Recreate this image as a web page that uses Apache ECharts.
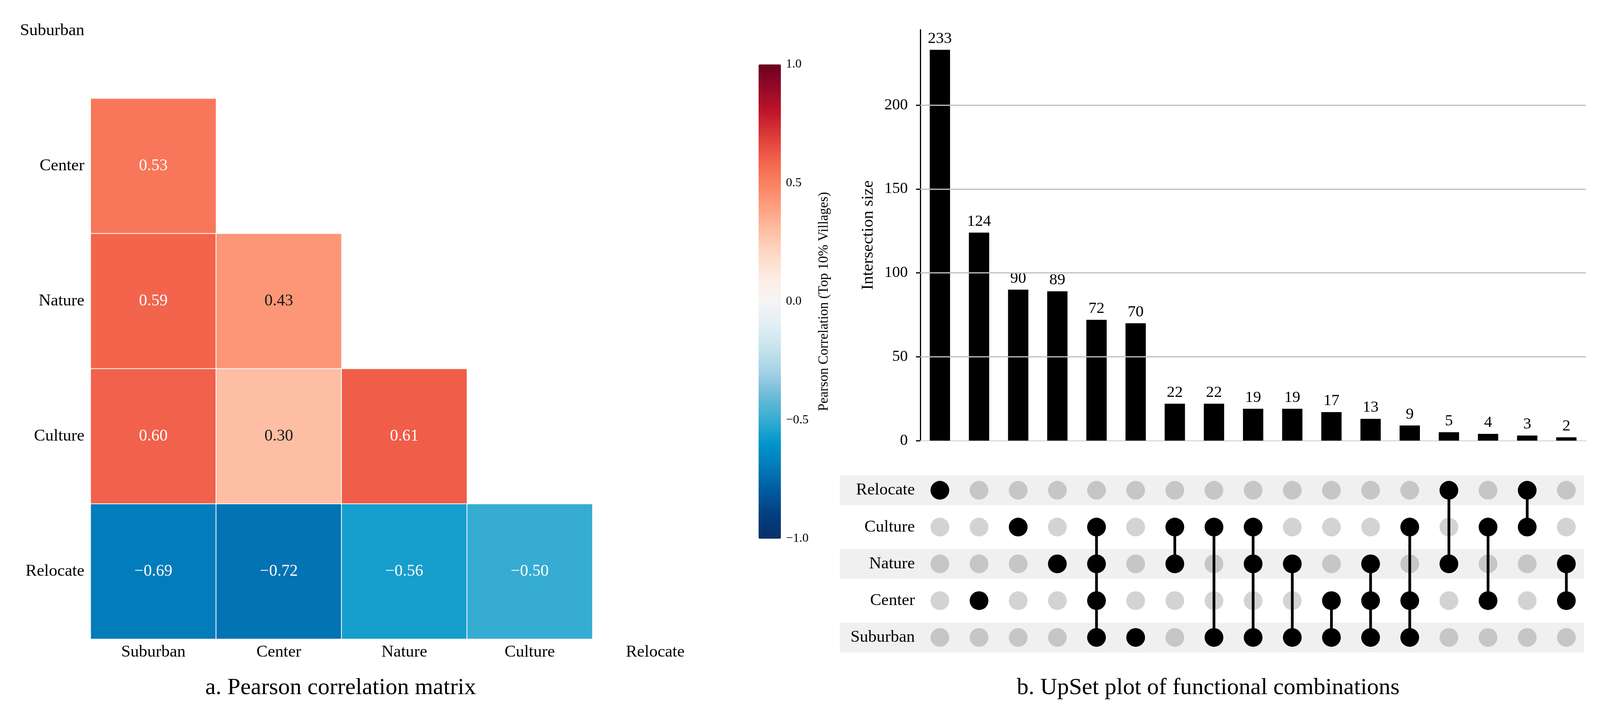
<!DOCTYPE html>
<html>
<head>
<meta charset="utf-8">
<script src="https://cdn.jsdelivr.net/npm/echarts@6/dist/echarts.min.js"></script>
<style>
html, body { margin: 0; padding: 0; background: #fff; overflow: hidden; }
#main { width: 4413px; height: 1833px; }
</style>
</head>
<body>
<div id="main"></div>
<script>
// panel a: correlation matrix (lower triangle, row by row)
var features = ['Suburban', 'Center', 'Nature', 'Culture', 'Relocate'];
var corrCenter = [0.53];
var corrNature = [0.59, 0.43];
var corrCulture = [0.60, 0.30, 0.61];
var corrRelocate = [-0.69, -0.72, -0.56, -0.50];
var corrTicks = [-1.0, -0.5, 0.0, 0.5, 1.0];

// panel b: upset plot
var setNames = ['Relocate', 'Culture', 'Nature', 'Center', 'Suburban'];
var comboSizes = [233, 124, 90, 89, 72, 70, 22, 22, 19, 19, 17, 13, 9, 5, 4, 3, 2];
var comboSets = [
    ['Relocate'],
    ['Center'],
    ['Culture'],
    ['Nature'],
    ['Culture', 'Nature', 'Center', 'Suburban'],
    ['Suburban'],
    ['Culture', 'Nature'],
    ['Culture', 'Suburban'],
    ['Culture', 'Nature', 'Suburban'],
    ['Nature', 'Suburban'],
    ['Center', 'Suburban'],
    ['Nature', 'Center', 'Suburban'],
    ['Culture', 'Center', 'Suburban'],
    ['Relocate', 'Nature'],
    ['Culture', 'Center'],
    ['Relocate', 'Culture'],
    ['Nature', 'Center']
];
var sizeTicks = [0, 50, 100, 150, 200];
var stripedRows = ['Relocate', 'Nature', 'Suburban'];

// layout is designed on a 4413 x 1833 page and scaled to the real window
var W = window.innerWidth || 4413;
var H = window.innerHeight || 1833;
var sx = W / 4413, sy = H / 1833, sf = Math.min(sx, sy);
function X(v) { return Math.round(v * sx); }
function Y(v) { return Math.round(v * sy); }
function F(v) { return Math.round(v * sf); }

var el = document.getElementById('main');
el.style.width = W + 'px';
el.style.height = H + 'px';
var myChart = echarts.init(el);

var serif = "'Liberation Serif', 'Times New Roman', serif";
// RdBu-like diverging map, from -1 to 1 in steps of 0.1
var corrColors = [
    '#07306a', '#033f80', '#005aa0', '#0279b8', '#0095c9', '#36acd3',
    '#6cbad8', '#a3d1e5', '#c6e2ee', '#e1eef4', '#f5f5f5',
    '#fcece4', '#fdd9c6', '#fdbea3', '#fda07f', '#fb8060',
    '#f2614b', '#da3b38', '#c0142b', '#940a26', '#6a0020'
];

function fmtCorr(v, digits) {
    return v.toFixed(digits).replace('-', '\u2212');
}

var corrRows = [[], corrCenter, corrNature, corrCulture, corrRelocate];
var heatData = [];
corrRows.forEach(function (row, r) {
    row.forEach(function (v, c) {
        heatData.push({
            value: [c, r, v],
            label: { color: Math.abs(v) < 0.45 ? '#1a1a1a' : '#ffffff' }
        });
    });
});

var comboIds = comboSizes.map(function (d, i) { return 'C' + (i + 1); });
var dotsOn = [], dotsOff = [], links = [];
comboSets.forEach(function (sets, i) {
    var rows = [];
    setNames.forEach(function (s, j) {
        if (sets.indexOf(s) >= 0) {
            dotsOn.push([i, j]);
            rows.push(j);
        } else {
            dotsOff.push({
                value: [i, j],
                itemStyle: { color: stripedRows.indexOf(s) >= 0 ? '#c6c6c6' : '#d3d3d3' }
            });
        }
    });
    if (rows.length > 1) {
        links.push([i, Math.min.apply(null, rows), Math.max.apply(null, rows)]);
    }
});
var stripeData = setNames.map(function (s) { return stripedRows.indexOf(s) >= 0 ? 1 : 0; });

var option = {
    animation: false,
    backgroundColor: '#fff',
    textStyle: { fontFamily: serif, color: '#000' },
    title: [{
        text: 'a. Pearson correlation matrix',
        left: X(940), top: Y(1731), textAlign: 'center', padding: 0,
        textStyle: { fontSize: F(65), fontWeight: 'normal', fontFamily: serif, color: '#000' }
    }, {
        text: 'b. UpSet plot of functional combinations',
        left: X(3332), top: Y(1731), textAlign: 'center', padding: 0,
        textStyle: { fontSize: F(65), fontWeight: 'normal', fontFamily: serif, color: '#000' }
    }],
    visualMap: {
        type: 'continuous',
        min: -1, max: 1,
        seriesIndex: 0,
        left: X(2092), top: Y(165),
        itemWidth: X(61), itemHeight: Y(1214),
        padding: 0,
        calculable: false,
        hoverLink: false,
        inRange: { color: corrColors }
    },
    grid: [
        { left: X(250), top: Y(-94), width: X(1730), height: Y(1730), outerBoundsMode: 'none', containLabel: false },
        { left: X(2092), top: Y(165), width: X(61), height: Y(1214), outerBoundsMode: 'none', containLabel: false },
        { left: X(2538), top: Y(76), width: X(1836), height: Y(1052), outerBoundsMode: 'none', containLabel: false },
        { left: X(2316), top: Y(1208), width: X(2052), height: Y(471), outerBoundsMode: 'none', containLabel: false },
        { left: X(2538), top: Y(1208), width: X(1836), height: Y(471), outerBoundsMode: 'none', containLabel: false }
    ],
    xAxis: [{
        type: 'category', gridIndex: 0, data: features,
        axisLine: { show: false }, axisTick: { show: false },
        axisLabel: { interval: 0, fontSize: F(46), margin: Y(12), color: '#000', fontFamily: serif }
    }, {
        type: 'value', gridIndex: 1, show: false
    }, {
        type: 'category', gridIndex: 2, data: comboIds,
        axisLine: { lineStyle: { color: '#dadada', width: 3 } },
        axisTick: { show: false }, axisLabel: { show: false }
    }, {
        type: 'value', gridIndex: 3, min: 0, max: 1, show: false
    }, {
        type: 'category', gridIndex: 4, data: comboIds, show: false
    }],
    yAxis: [{
        type: 'category', gridIndex: 0, data: features, inverse: true,
        axisLine: { show: false }, axisTick: { show: false },
        axisLabel: { interval: 0, fontSize: F(46), margin: X(17), color: '#000', fontFamily: serif }
    }, {
        type: 'value', gridIndex: 1, position: 'right',
        min: -1, max: 1, interval: 0.5,
        axisLine: { show: false }, axisTick: { show: false }, splitLine: { show: false },
        axisLabel: {
            fontSize: F(34), margin: X(14), color: '#000', fontFamily: serif,
            customValues: corrTicks,
            formatter: function (v) { return fmtCorr(v, 1); }
        },
        name: 'Pearson Correlation (Top 10% Villages)',
        nameLocation: 'middle', nameRotate: 90, nameGap: X(100),
        nameTextStyle: { fontSize: F(38), color: '#000', fontFamily: serif }
    }, {
        type: 'value', gridIndex: 2, min: 0, max: 245, interval: 50,
        axisLine: { show: true, lineStyle: { color: '#000', width: 3 } },
        axisTick: { show: true, length: X(12), customValues: sizeTicks, lineStyle: { color: '#000', width: 3 } },
        axisLabel: { fontSize: F(43), margin: X(34), color: '#000', fontFamily: serif, customValues: sizeTicks },
        splitLine: { show: false },
        name: 'Intersection size',
        nameLocation: 'middle', nameGap: X(121),
        nameTextStyle: { fontSize: F(46), color: '#000', fontFamily: serif }
    }, {
        type: 'category', gridIndex: 3, data: setNames, inverse: true, show: false
    }, {
        type: 'category', gridIndex: 4, data: setNames, inverse: true,
        z: 10,
        axisLine: { show: false }, axisTick: { show: false },
        axisLabel: { interval: 0, fontSize: F(46), margin: X(15), color: '#000', fontFamily: serif }
    }],
    series: [{
        type: 'heatmap',
        xAxisIndex: 0, yAxisIndex: 0,
        data: heatData,
        itemStyle: { borderColor: '#ffffff', borderWidth: 2 },
        label: {
            show: true, fontSize: F(45), fontFamily: serif,
            formatter: function (p) { return fmtCorr(p.value[2], 2); }
        },
        emphasis: { disabled: true }
    }, {
        type: 'scatter',
        xAxisIndex: 1, yAxisIndex: 1,
        data: []
    }, {
        type: 'bar',
        xAxisIndex: 2, yAxisIndex: 2,
        data: comboSizes,
        barWidth: X(56),
        itemStyle: { color: '#000' },
        label: { show: true, position: 'top', distance: Y(8), fontSize: F(44), color: '#000', fontFamily: serif },
        markLine: {
            silent: true, symbol: 'none',
            label: { show: false },
            lineStyle: { color: '#c0c0c0', width: 3, type: 'solid' },
            data: sizeTicks.slice(1).map(function (v) { return { yAxis: v }; })
        }
    }, {
        type: 'bar',
        xAxisIndex: 3, yAxisIndex: 3,
        data: stripeData,
        barWidth: Y(76),
        itemStyle: { color: '#f0f0f0' },
        silent: true,
        z: 1
    }, {
        type: 'scatter',
        xAxisIndex: 4, yAxisIndex: 4,
        data: dotsOff,
        symbolSize: F(52),
        itemStyle: { opacity: 1 },
        z: 2
    }, {
        type: 'custom',
        xAxisIndex: 4, yAxisIndex: 4,
        data: links,
        encode: { x: 0, y: [1, 2] },
        renderItem: function (params, api) {
            var p0 = api.coord([api.value(0), api.value(1)]);
            var p1 = api.coord([api.value(0), api.value(2)]);
            return {
                type: 'line',
                shape: { x1: p0[0], y1: p0[1], x2: p1[0], y2: p1[1] },
                style: { stroke: '#000', lineWidth: F(8) }
            };
        },
        z: 3
    }, {
        type: 'scatter',
        xAxisIndex: 4, yAxisIndex: 4,
        data: dotsOn,
        symbolSize: F(52),
        itemStyle: { color: '#000', opacity: 1 },
        z: 4
    }]
};
myChart.setOption(option);
</script>
</body>
</html>
